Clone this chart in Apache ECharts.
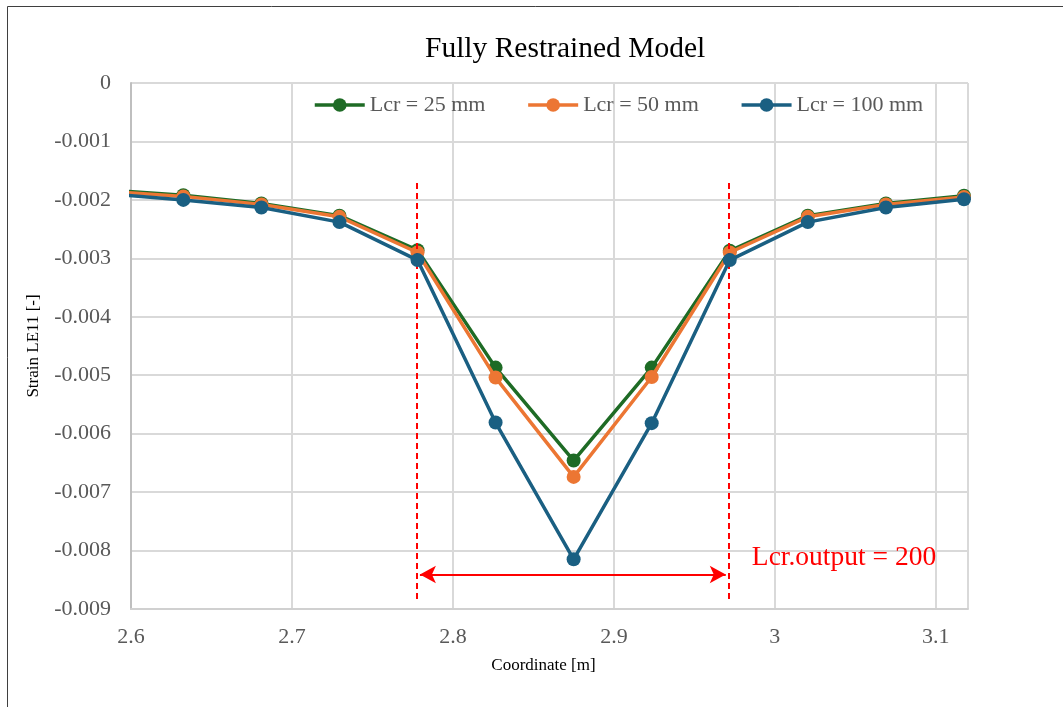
<!DOCTYPE html>
<html>
<head>
<meta charset="utf-8">
<title>Fully Restrained Model</title>
<script src="https://cdn.jsdelivr.net/npm/echarts@6/dist/echarts.min.js"></script>
<style>
  html, body { margin: 0; padding: 0; background: #ffffff; }
  #chart { width: 1063px; height: 707px; }
</style>
</head>
<body>
<div id="chart"></div>
<script>
// Sampling coordinates along the member [m]
const coordinates = [2.584, 2.6325, 2.681, 2.7295, 2.778, 2.8265, 2.875, 2.9235, 2.972, 3.0205, 3.069, 3.1175];

// Strain LE11 for each crack-band length
const strainLcr25 = [-0.00183, -0.00192, -0.00206, -0.00227, -0.00286, -0.00487, -0.00646, -0.00487, -0.00287, -0.00227, -0.00206, -0.00193];
const strainLcr50 = [-0.00185, -0.00194, -0.00208, -0.00229, -0.00290, -0.00504, -0.00674, -0.00503, -0.00290, -0.00229, -0.00208, -0.00195];
const strainLcr100 = [-0.00189, -0.00200, -0.00213, -0.00238, -0.00303, -0.00581, -0.00815, -0.00582, -0.00303, -0.00238, -0.00213, -0.00199];

const seriesNames = ['Lcr = 25 mm', 'Lcr = 50 mm', 'Lcr = 100 mm'];

// Output zone of Lcr: guide positions, vertical extent, arrow level and note
const lcrZone = [2.7776, 2.9714];
const lcrZoneStrain = [-0.00171, -0.00885];
const lcrArrowEnds = [2.7795, 2.9695];
const lcrArrowStrain = -0.00841;
const lcrNoteAt = [2.9857, -0.00812];
const lcrNote = 'Lcr.output = 200';

const serif = '"Liberation Serif", "Times New Roman", serif';
const colors = ['#1e6b25', '#ec7633', '#1a5f82'];

const pairs = ys => coordinates.map((x, i) => [x, ys[i]]);

const chart = echarts.init(document.getElementById('chart'), null, { renderer: 'canvas' });

const lineSeries = [strainLcr25, strainLcr50, strainLcr100].map((ys, i) => ({
  name: seriesNames[i],
  type: 'line',
  data: pairs(ys),
  symbol: 'circle',
  symbolSize: 14,
  showAllSymbol: true,
  clip: true,
  z: 3 + i,
  itemStyle: { color: colors[i] },
  lineStyle: { color: colors[i], width: 3.5 },
  emphasis: { disabled: true },
  animation: false
}));

// Guides, span arrow and note for the Lcr output zone
const guideStyle = { color: '#ff0000', type: [6, 4], width: 2 };
lineSeries.push({
  type: 'line',
  data: [],
  silent: true,
  animation: false,
  z: 10,
  markLine: {
    silent: true,
    animation: false,
    label: { show: false },
    data: [
      [
        { coord: [lcrZone[0], lcrZoneStrain[0]], symbol: 'none', lineStyle: guideStyle },
        { coord: [lcrZone[0], lcrZoneStrain[1]], symbol: 'none' }
      ],
      [
        { coord: [lcrZone[1], lcrZoneStrain[0]], symbol: 'none', lineStyle: guideStyle },
        { coord: [lcrZone[1], lcrZoneStrain[1]], symbol: 'none' }
      ],
      [
        { coord: [lcrArrowEnds[0], lcrArrowStrain], symbol: 'arrow', symbolSize: [13, 16], lineStyle: { color: '#ff0000', type: 'solid', width: 2 } },
        { coord: [lcrArrowEnds[1], lcrArrowStrain], symbol: 'arrow', symbolSize: [13, 16] }
      ]
    ]
  },
  markPoint: {
    silent: true,
    animation: false,
    symbol: 'circle',
    symbolSize: 0,
    data: [{ coord: lcrNoteAt }],
    label: {
      show: true,
      position: [0, 0],
      align: 'left',
      verticalAlign: 'middle',
      formatter: lcrNote,
      color: '#ff0000',
      fontFamily: serif,
      fontSize: 27.5
    }
  }
});

const option = {
  backgroundColor: '#ffffff',
  animation: false,
  color: colors,
  title: {
    text: 'Fully Restrained Model',
    left: 425,
    top: 34,
    padding: 0,
    textStyle: { fontFamily: serif, fontSize: 29.5, fontWeight: 'normal', color: '#000000' }
  },
  legend: {
    data: seriesNames,
    left: 313,
    top: 94,
    padding: 0,
    itemWidth: 50,
    itemHeight: 17,
    itemGap: 41,
    lineStyle: { width: 3.5 },
    textStyle: { fontFamily: serif, fontSize: 22, color: '#595959' }
  },
  grid: { left: 131, top: 83, right: 95, bottom: 98, containLabel: false },
  xAxis: {
    type: 'value',
    min: 2.6,
    max: 3.12,
    interval: 0.1,
    name: 'Coordinate [m]',
    nameLocation: 'middle',
    nameGap: 48,
    nameTextStyle: { fontFamily: serif, fontSize: 17, color: '#000000', padding: [0, 12, 0, 0] },
    axisLine: { show: true, onZero: false, lineStyle: { color: '#d0d0d0', width: 2 } },
    axisTick: { show: false },
    splitLine: { show: true, lineStyle: { color: '#d9d9d9', width: 2 } },
    axisLabel: {
      margin: 17,
      showMaxLabel: false,
      fontFamily: serif,
      fontSize: 22,
      color: '#595959',
      formatter: v => String(Math.round(v * 10) / 10)
    }
  },
  yAxis: {
    type: 'value',
    min: -0.009,
    max: 0,
    interval: 0.001,
    name: 'Strain LE11 [-]',
    nameLocation: 'middle',
    nameGap: 89,
    nameTextStyle: { fontFamily: serif, fontSize: 17, color: '#000000' },
    axisLine: { show: true, lineStyle: { color: '#bfbfbf', width: 2 } },
    axisTick: { show: false },
    splitLine: { show: true, lineStyle: { color: '#d9d9d9', width: 2 } },
    axisLabel: {
      margin: 20,
      fontFamily: serif,
      fontSize: 22,
      color: '#595959',
      formatter: v => (Math.abs(v) < 1e-12 ? '0' : v.toFixed(3))
    }
  },
  graphic: [{
    type: 'rect',
    silent: true,
    shape: { x: 7.5, y: 6.5, width: 1200, height: 900 },
    style: { fill: null, stroke: '#3f3f3f', lineWidth: 1 }
  }],
  series: lineSeries
};

chart.setOption(option);
</script>
</body>
</html>
